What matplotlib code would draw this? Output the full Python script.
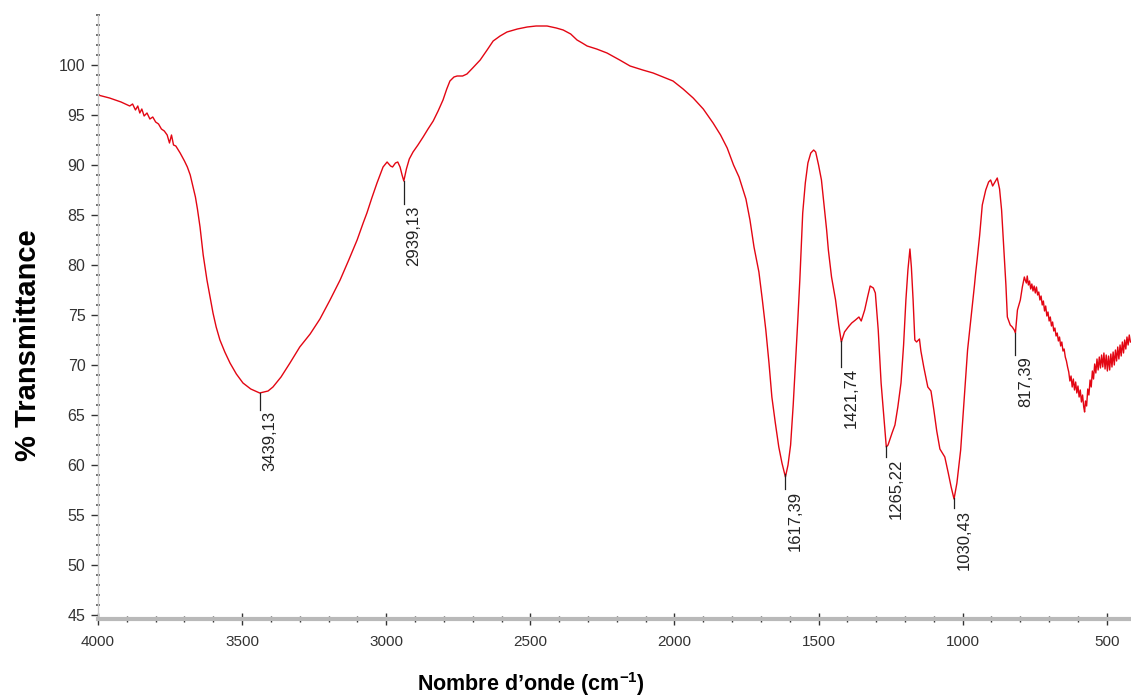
import matplotlib
matplotlib.use("Agg")
import matplotlib.pyplot as plt
from matplotlib.ticker import MultipleLocator
import numpy as np

# IR spectrum, % transmittance vs wavenumber
wavenumber = [
    4000, 3960, 3920, 3890, 3880, 3870, 3862, 3855, 3848, 3840, 3830, 3820,
    3810, 3800, 3790, 3780, 3770, 3760, 3752, 3745, 3738, 3730, 3715, 3700,
    3690, 3680, 3670, 3662, 3655, 3646, 3635, 3622, 3610, 3601, 3590, 3577,
    3560, 3542, 3520, 3497, 3470, 3439, 3410, 3393, 3365, 3334, 3300, 3264,
    3230, 3195, 3160, 3130, 3101, 3080, 3067, 3050, 3032, 3011, 2997, 2985,
    2978, 2968, 2960, 2952, 2945, 2939, 2930, 2920, 2907, 2890, 2872, 2855,
    2837, 2820, 2803, 2790, 2779, 2765, 2754, 2735, 2720, 2700, 2674, 2650,
    2629, 2605, 2581, 2545, 2511, 2480, 2442, 2410, 2386, 2360, 2338, 2320,
    2303, 2270, 2234, 2190, 2154, 2110, 2074, 2040, 2005, 1970, 1935, 1900,
    1866, 1840, 1817, 1795, 1776, 1752, 1738, 1724, 1707, 1695, 1683, 1672,
    1662, 1650, 1638, 1627, 1615, 1606, 1597, 1588, 1580, 1572, 1565, 1555,
    1546, 1537, 1527, 1517, 1510, 1500, 1490, 1472, 1466, 1455, 1441, 1430,
    1421, 1410, 1397, 1385, 1372, 1360, 1352, 1340, 1330, 1321, 1310, 1303,
    1293, 1283, 1270, 1265, 1259, 1245, 1235, 1225, 1214, 1205, 1197, 1190,
    1183, 1178, 1172, 1166, 1160, 1150, 1145, 1135, 1121, 1110, 1100, 1090,
    1079, 1062, 1050, 1040, 1030, 1020, 1007, 995, 983, 970, 959, 955,
    950, 941, 932, 920, 910, 903, 896, 888, 880, 872, 865, 860,
    855, 850, 845, 835, 828, 821, 817, 810, 800, 793, 786, 783,
    779, 776, 772, 768, 764, 760, 756, 752, 748, 744, 740, 736,
    732, 728, 724, 720, 716, 712, 708, 704, 700, 696, 692, 688,
    684, 680, 676, 672, 668, 664, 660, 656, 652, 648, 644, 640,
    636, 632, 628, 624, 620, 616, 612, 608, 604, 600, 596, 592,
    588, 584, 580, 577, 574, 570, 566, 562, 558, 554, 550, 546,
    542, 538, 534, 530, 526, 522, 518, 514, 510, 506, 502, 498,
    494, 490, 486, 482, 478, 474, 470, 466, 462, 458, 454, 450,
    446, 442, 438, 434, 430, 426, 422, 418,
]
transmittance = [
    97.0, 96.7, 96.3, 95.9, 96.1, 95.5, 95.9, 95.2, 95.6, 94.9, 95.2, 94.6,
    94.8, 94.3, 94.1, 93.6, 93.4, 93.0, 92.2, 93.0, 92.0, 91.9, 91.2, 90.4,
    89.8, 89.0, 87.8, 86.8, 85.6, 83.8, 81.0, 78.5, 76.6, 75.2, 73.8, 72.5,
    71.3, 70.2, 69.1, 68.2, 67.6, 67.2, 67.4, 67.8, 68.8, 70.2, 71.8, 73.1,
    74.6, 76.5, 78.5, 80.5, 82.5, 84.2, 85.2, 86.7, 88.2, 89.8, 90.3, 89.9,
    89.8, 90.2, 90.3, 89.8, 89.0, 88.4, 89.6, 90.6, 91.3, 92.0, 92.8, 93.6,
    94.4, 95.4, 96.5, 97.6, 98.4, 98.8, 98.9, 98.9, 99.1, 99.7, 100.5, 101.5,
    102.4, 102.9, 103.3, 103.6, 103.8, 103.9, 103.9, 103.7, 103.5, 103.1, 102.5, 102.2,
    101.9, 101.6, 101.2, 100.5, 99.9, 99.5, 99.2, 98.8, 98.4, 97.6, 96.7, 95.6,
    94.2, 93.0, 91.7, 90.0, 88.8, 86.6, 84.5, 81.8, 79.3, 76.5, 73.5, 70.2,
    66.8, 64.2, 61.8, 60.2, 58.8, 60.0, 62.0, 66.0, 70.2, 74.5, 78.5, 85.2,
    88.2, 90.2, 91.2, 91.5, 91.3, 90.0, 88.5, 83.5, 81.5, 78.8, 76.5, 74.0,
    72.3, 73.3, 73.8, 74.2, 74.5, 74.8, 74.4, 75.5, 76.8, 77.9, 77.7, 77.2,
    73.5, 68.2, 63.5, 61.8, 62.0, 63.2, 64.0, 65.8, 68.2, 72.0, 76.5, 79.5,
    81.6, 79.8, 76.5, 72.5, 72.3, 72.6, 71.4, 69.8, 67.8, 67.4, 65.5, 63.4,
    61.6, 60.8, 59.2, 57.8, 56.6, 58.2, 61.5, 66.5, 71.5, 75.0, 78.0, 79.2,
    80.5, 83.0, 86.0, 87.5, 88.3, 88.5, 87.9, 88.3, 88.7, 87.6, 85.5, 83.0,
    80.5, 78.0, 74.8, 74.0, 73.8, 73.5, 73.2, 75.5, 76.5, 77.8, 78.8, 78.5,
    78.2, 78.9, 78.0, 78.4, 77.6, 78.1, 77.4, 77.9, 77.2, 77.8, 77.0, 77.3,
    76.5, 76.9, 76.0, 76.4, 75.4, 75.9, 74.9, 75.3, 74.4, 74.8, 73.9, 74.3,
    73.4, 73.7, 72.9, 73.2, 72.4, 72.8, 71.9, 72.3, 71.4, 71.6, 70.8, 70.4,
    69.8, 69.3, 68.4, 68.9, 67.8, 68.6, 67.5, 68.3, 67.2, 67.9, 66.8, 67.5,
    66.3, 67.0, 65.8, 65.3, 66.4, 65.9, 67.6, 67.0, 68.5, 67.8, 69.4, 68.6,
    70.1, 69.2, 70.6, 69.5, 70.8, 69.7, 71.0, 69.8, 71.2, 69.6, 71.0, 69.4,
    70.9, 69.5, 71.1, 69.8, 71.3, 70.0, 71.5, 70.4, 71.8, 70.6, 72.0, 70.9,
    72.3, 71.2, 72.5, 71.6, 72.8, 72.0, 73.0, 72.3,
]

# labelled bands
peak_wn = [3439.13, 2939.13, 1617.39, 1421.74, 1265.22, 1030.43, 817.39]
stem_len = [1.7, 2.3, 1.5, 2.6, 1.1, 1.0, 2.2]  # in % units

plt.rcParams["font.family"] = ["Liberation Sans", "DejaVu Sans"]
plt.rcParams["mathtext.fontset"] = "custom"
plt.rcParams["mathtext.rm"] = "Liberation Sans:bold"
plt.rcParams["mathtext.bf"] = "Liberation Sans:bold"

fig = plt.figure(figsize=(11.31, 6.99), dpi=100)
ax = fig.add_axes([98 / 1131, 80 / 699, 1033 / 1131, 604 / 699])

x = np.array(wavenumber, dtype=float)
y = np.array(transmittance, dtype=float)
ax.plot(x, y, color="#e30613", lw=1.0)

ax.set_xlim(4000, 416)
ax.set_ylim(44.6, 105)

for s in ["top", "right"]:
    ax.spines[s].set_visible(False)
ax.spines["bottom"].set_color("#b9b9b9")
ax.spines["bottom"].set_linewidth(3)
ax.spines["left"].set_color("#c8c8c8")
ax.spines["left"].set_linewidth(1)

ax.set_xticks([4000, 3500, 3000, 2500, 2000, 1500, 1000, 500])
ax.xaxis.set_minor_locator(MultipleLocator(100))
ax.set_yticks(np.arange(45, 101, 5))
ax.yaxis.set_minor_locator(MultipleLocator(1))

ax.tick_params(axis="x", which="major", direction="inout", length=9, width=1,
               color="#333333", pad=7, labelsize=11, labelcolor="#333333")
ax.tick_params(axis="x", which="minor", direction="inout", length=4, width=1,
               color="#333333")
ax.tick_params(axis="y", which="major", direction="out", length=5, width=1,
               color="#333333", pad=4, labelsize=11.5, labelcolor="#333333")
ax.tick_params(axis="y", which="minor", direction="inout", length=2.5, width=1.2,
               color="#555555")

# peak markers
curve_x = x[::-1]
curve_y = y[::-1]
for wn, dl in zip(peak_wn, stem_len):
    t0 = np.interp(wn, curve_x, curve_y)
    ax.plot([wn, wn], [t0, t0 - dl], color="#222222", lw=0.9)
    ax.annotate(f"{wn:.2f}".replace(".", ","), xy=(wn, t0 - dl),
                xytext=(2, -1), textcoords="offset points",
                rotation=90, ha="left", va="top", fontsize=12,
                color="#222222")

fig.text(0.025, 0.506, "% Transmittance", rotation=90, fontsize=21,
         fontweight="bold", ha="center", va="center")
fig.text(0.469, 0.022, r"Nombre d’onde (cm$^{\mathbf{-1}}$)", fontsize=15.5,
         fontweight="bold", ha="center", va="center")

fig.savefig("out.png", dpi=100)
